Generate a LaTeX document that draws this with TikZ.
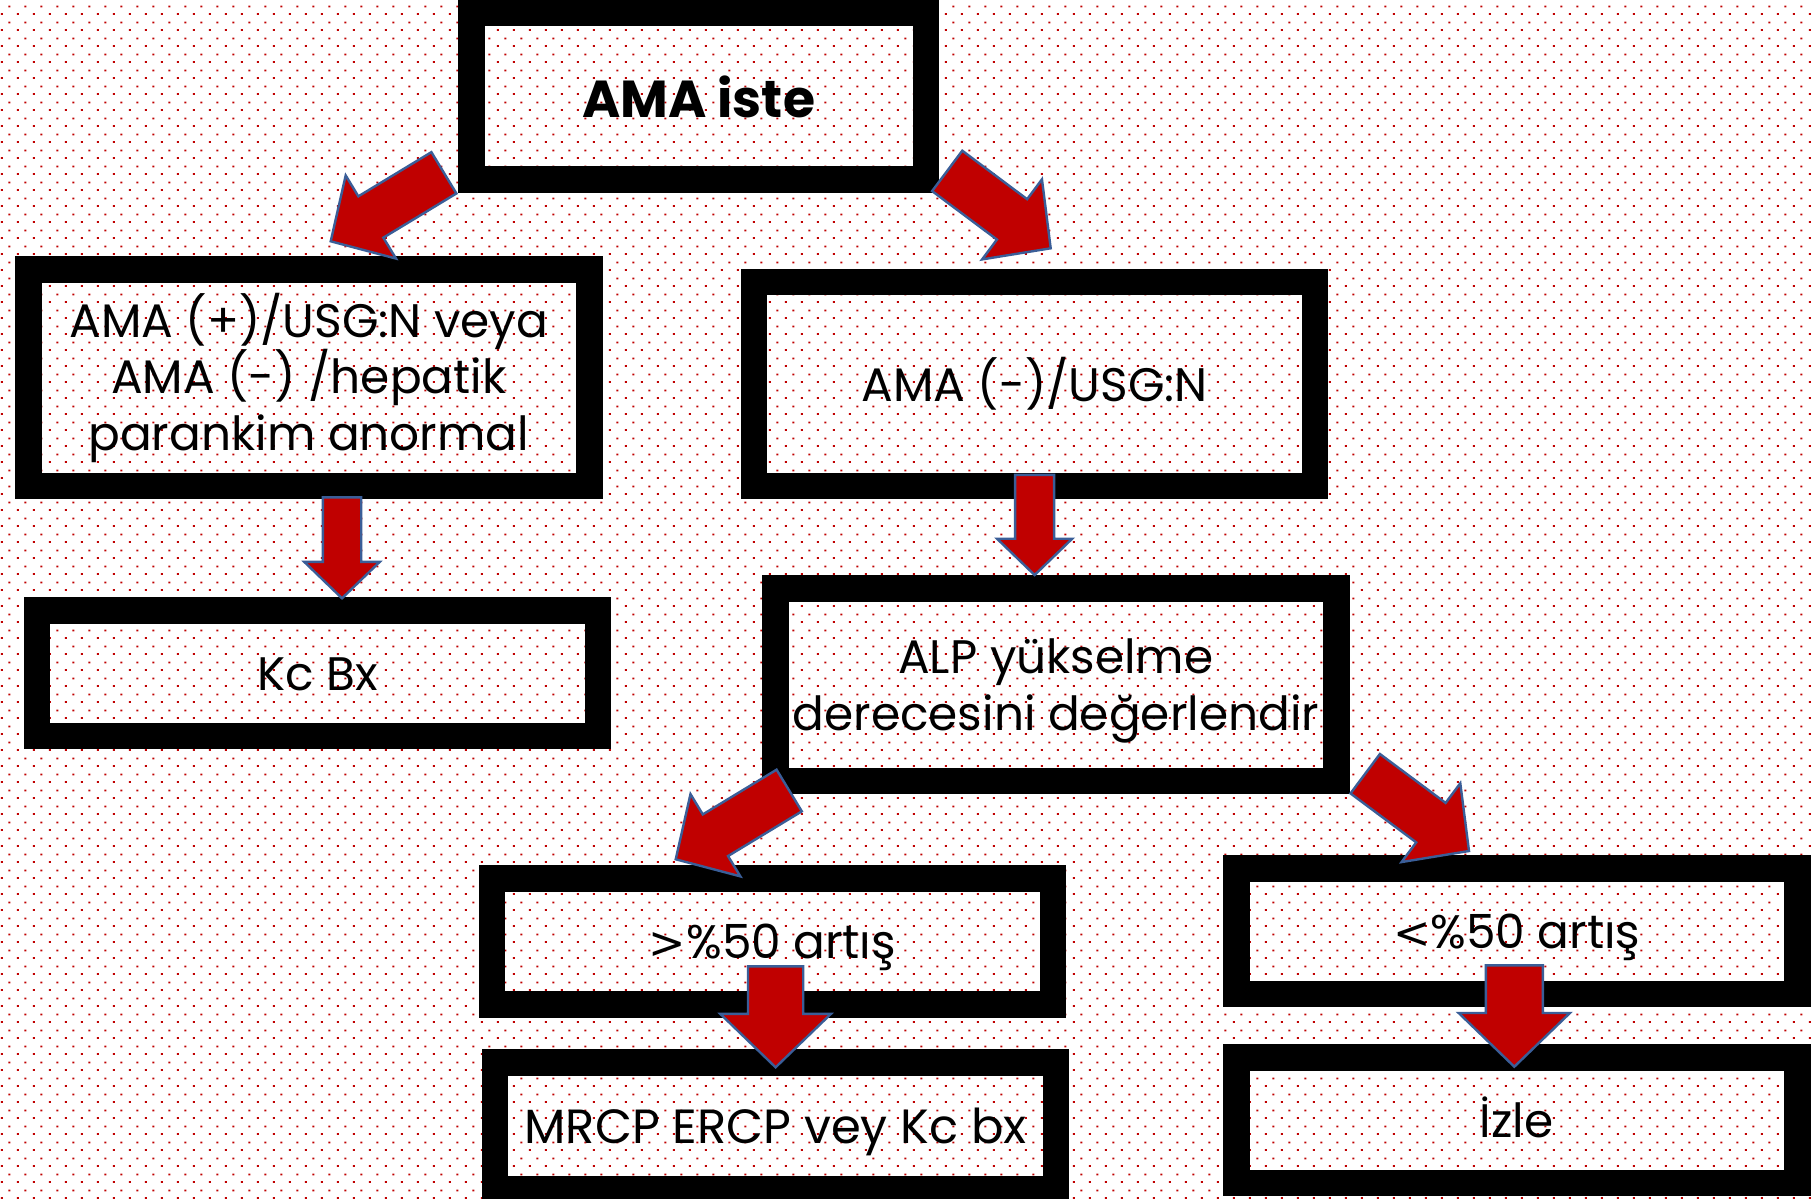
\documentclass[tikz,border=0pt]{standalone}
\usepackage{fontspec}
\setmainfont{Poppins}
\newfontfamily\cmpfont{DejaVu Sans}[Scale=0.95]
\usetikzlibrary{patterns,shapes.arrows,calc}
\definecolor{dotred}{HTML}{C00000}
\definecolor{arrred}{HTML}{C00000}
\definecolor{arrblue}{HTML}{3A5E98}
\pgfdeclarepatternformonly{reddots}{\pgfqpoint{0pt}{0pt}}{\pgfqpoint{16pt}{16pt}}{\pgfqpoint{16pt}{16pt}}{%
  \pgfpathrectangle{\pgfqpoint{2pt}{0pt}}{\pgfqpoint{2pt}{2pt}}%
  \pgfpathrectangle{\pgfqpoint{10pt}{8pt}}{\pgfqpoint{2pt}{2pt}}%
  \pgfusepath{fill}}
\newcommand{\bigsym}[1]{{\cmpfont #1}}
\tikzset{
  frame/.style={draw=black, line width=26.5pt, line join=miter, inner sep=0pt, outer sep=0pt,
    minimum width=561pt, align=center, font=\fontsize{47}{56.7}\selectfont,
    text height=35pt, text depth=0pt},
  blockarr/.style={shape=single arrow, draw=arrblue, line width=2.4pt, fill=arrred,
    inner sep=0pt, outer sep=0pt, single arrow tip angle=92, anchor=tail, text depth=0pt},
}
\newcommand{\blockarrow}[5]{%
  \path let \p1=(#2), \p2=(#3), \n1={atan2(\y2-\y1,\x2-\x1)}, \n2={veclen(\x2-\x1,\y2-\y1)} in
    node[blockarr, rotate=\n1, minimum height=\n2, minimum width=#5pt, text height=#4pt,
      single arrow head extend={(#5-#4)/2*1pt}] (#1) at (\p1) {};}
\begin{document}
\begin{tikzpicture}[x=1pt,y=-1pt]
\useasboundingbox (0,0) rectangle (1813,1199);
\fill[white] (0,0) rectangle (1813,1199);
\fill[pattern=reddots, pattern color=dotred] (0,0) rectangle (1813,1199);

% boxes
\node[frame, minimum width=454.2pt, minimum height=166.2pt, font=\fontsize{52}{60}\selectfont\bfseries, text height=41.4pt]
  (A) at (698.65,96.35) {AMA iste};
\node[frame, minimum height=216.8pt, text height=146pt] (B) at (308.8,377.65)
  {AMA (+)/USG:N veya\\AMA (-) /hepatik\\parankim anormal};
\node[frame, minimum height=125.5pt] (C) at (317.5,673.3) {Kc Bx};
\node[frame, minimum height=203.9pt] (D) at (1034.7,383.8) {AMA (-)/USG:N};
\node[frame, minimum height=192.5pt, text height=91.6pt] (E) at (1055.95,684.5)
  {ALP yükselme\\derecesini değerlendir};
\node[frame, minimum height=126.2pt] (F) at (772.5,941.35) {\bigsym{>}\%50 artış};
\node[frame, minimum height=126.2pt, font=\fontsize{48}{56.7}\selectfont] (G) at (775.65,1125.65) {MRCP ERCP vey Kc bx};
\node[frame, minimum height=125.8pt] (H) at (1516.75,931.15) {\bigsym{<}\%50 artış};
\node[frame, minimum height=125.2pt] (I) at (1516.75,1120.15) {İzle};

% arrow end points
\coordinate (a1s) at (443.9,172.8);  \coordinate (a1e) at (330.7,241.3);
\coordinate (a2s) at (947.2,170.9);  \coordinate (a2e) at (1050.7,248.3);
\coordinate (a3s) at (342,497.3);    \coordinate (a3e) at (342,598.3);
\coordinate (a4s) at (1034.6,474.9); \coordinate (a4e) at (1034.6,575);
\coordinate (a5s) at (789.2,790.5);  \coordinate (a5e) at (675.7,859.3);
\coordinate (a6s) at (1365.2,773.7); \coordinate (a6e) at (1469,851);
\coordinate (a7s) at (775.6,966.3);  \coordinate (a7e) at (775.6,1067.3);
\coordinate (a8s) at (1514.3,965.3); \coordinate (a8e) at (1514.3,1066.7);

\blockarrow{AB}{a1s}{a1e}{45.9}{94.8}
\blockarrow{AD}{a2s}{a2e}{48}{97.6}
\blockarrow{BC}{a3s}{a3e}{36}{73}
\blockarrow{DE}{a4s}{a4e}{36.7}{72.7}
\blockarrow{EF}{a5s}{a5e}{46.3}{93.8}
\blockarrow{EH}{a6s}{a6e}{46.8}{95.9}
\blockarrow{FG}{a7s}{a7e}{52.9}{108.3}
\blockarrow{HI}{a8s}{a8e}{54.6}{108.8}
\end{tikzpicture}
\end{document}
